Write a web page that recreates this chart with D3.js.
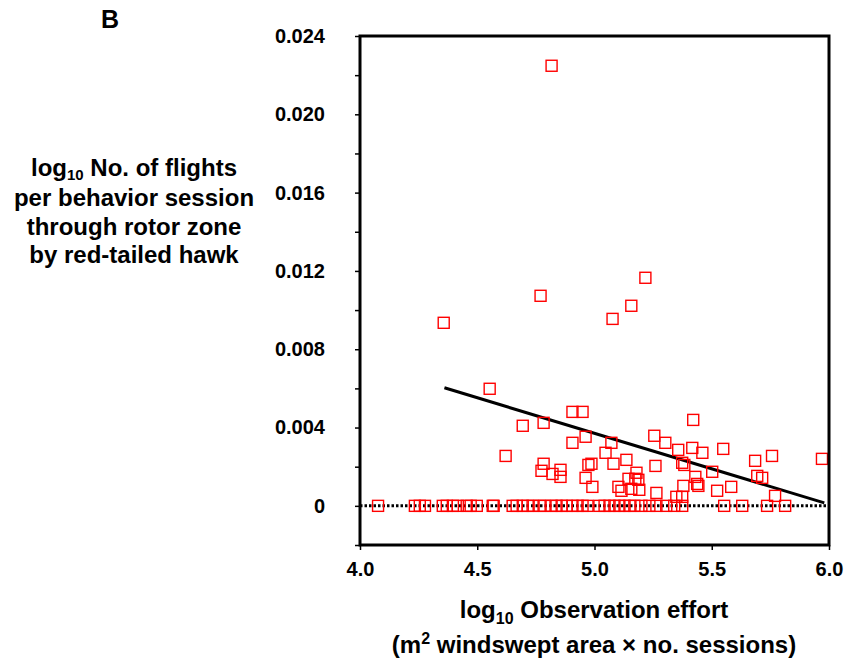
<!DOCTYPE html>
<html><head><meta charset="utf-8">
<script src="https://cdn.jsdelivr.net/npm/d3@7"></script>
<style>body{margin:0;background:#fff}svg{display:block}text{font-family:"Liberation Sans",Arial,sans-serif;font-weight:bold;fill:#000}</style>
</head><body>
<script>
const xTicks = [4.0, 4.5, 5.0, 5.5, 6.0];
const yTicks = [0, 0.004, 0.008, 0.012, 0.016, 0.020, 0.024];
const yMinorTicks = [-0.002, 0, 0.002, 0.004, 0.006, 0.008, 0.010, 0.012, 0.014, 0.016, 0.018, 0.020, 0.022, 0.024];
// Sessions with zero flights (y = 0)
const zeroX = [4.077,4.234,4.255,4.277,4.353,4.370,4.396,4.417,4.455,4.472,4.498,4.566,4.570,4.651,4.668,4.694,4.715,4.736,4.766,4.787,4.817,4.838,4.860,4.881,4.906,4.928,4.949,4.970,5.021,5.043,5.064,5.085,5.106,5.128,5.149,5.170,5.200,5.234,5.264,5.306,5.340,5.374,5.553,5.630,5.736,5.813];
// Sessions with flights
const posX = [4.817,4.357,4.770,5.217,5.157,5.077,4.553,4.906,4.949,4.694,4.783,4.906,4.962,4.621,4.783,4.774,4.821,4.855,4.855,4.987,4.974,4.962,4.991,5.421,5.255,5.302,5.357,5.417,5.460,5.549,5.047,5.072,5.081,5.136,5.260,5.374,5.383,5.502,5.685,5.757,5.970,5.694,5.715,5.179,5.145,5.174,5.187,5.102,5.115,5.157,5.191,5.264,5.430,5.438,5.443,5.379,5.349,5.374,5.523,5.583,5.770];
const posY = [0.02248,0.00935,0.01073,0.01165,0.01022,0.00955,0.00598,0.00480,0.00480,0.00409,0.00424,0.00322,0.00353,0.00255,0.00215,0.00179,0.00163,0.00184,0.00148,0.00215,0.00209,0.00143,0.00097,0.00439,0.00358,0.00322,0.00286,0.00296,0.00271,0.00291,0.00271,0.00322,0.00215,0.00235,0.00204,0.00220,0.00209,0.00174,0.00230,0.00255,0.00240,0.00153,0.00143,0.00169,0.00138,0.00138,0.00133,0.00097,0.00077,0.00087,0.00082,0.00066,0.00148,0.00112,0.00102,0.00102,0.00046,0.00046,0.00077,0.00097,0.00051];
const fitX = [4.36, 5.98];
const fitY = [0.00603, 0.00015];

const W = 849, H = 663;
const L = 360, R = 829, T = 36, B = 545;
const FONT = '"Liberation Sans",Arial,sans-serif';
const svg = d3.select("body").append("svg").attr("width", W).attr("height", H);
const x = d3.scaleLinear().domain([4, 6]).range([L, R]);
const y = d3.scaleLinear().domain([-0.002, 0.024]).range([B, T]);

// zero reference dotted line
svg.append("line").attr("x1", L).attr("x2", R).attr("y1", y(0)).attr("y2", y(0))
  .attr("stroke", "#000").attr("stroke-width", 3).attr("stroke-dasharray", "2.5,2");

// regression line
svg.append("line").attr("x1", x(fitX[0])).attr("y1", y(fitY[0])).attr("x2", x(fitX[1])).attr("y2", y(fitY[1]))
  .attr("stroke", "#000").attr("stroke-width", 3);

const pts = zeroX.map(v => [v, 0]).concat(posX.map((v, i) => [v, posY[i]]));
const s = 11;
svg.append("g").selectAll("rect").data(pts).join("rect")
  .attr("x", d => x(d[0]) - s/2).attr("y", d => y(d[1]) - s/2)
  .attr("width", s).attr("height", s)
  .attr("fill", "none").attr("stroke", "#ff0000").attr("stroke-width", 1.4);

// frame
svg.append("rect").attr("x", L).attr("y", T).attr("width", R - L).attr("height", B - T)
  .attr("fill", "none").attr("stroke", "#000").attr("stroke-width", 3);

// y axis ticks
const yAxisMinor = d3.axisLeft(y).tickValues(yMinorTicks).tickSize(5).tickFormat("");
const gy = svg.append("g").attr("transform", `translate(${L},0)`).call(yAxisMinor);
gy.select(".domain").remove();
gy.selectAll(".tick line").attr("stroke-width", 1.5);
const yAxis = d3.axisLeft(y).tickValues(yTicks).tickSize(0).tickPadding(35)
  .tickFormat(d => d === 0 ? "0" : d3.format(".3f")(d));
const gy2 = svg.append("g").attr("transform", `translate(${L},0)`).call(yAxis);
gy2.select(".domain").remove();
gy2.selectAll("text").attr("font-size", 20).attr("font-family", FONT).attr("font-weight", "bold").attr("fill", "#000");

// x axis
const xAxis = d3.axisBottom(x).tickValues(xTicks).tickSize(5).tickPadding(12).tickFormat(d3.format(".1f"));
const gx = svg.append("g").attr("transform", `translate(0,${B})`).call(xAxis);
gx.select(".domain").remove();
gx.selectAll(".tick line").attr("stroke-width", 1.5);
gx.selectAll("text").attr("font-size", 20).attr("font-family", FONT).attr("font-weight", "bold").attr("fill", "#000");

// panel label
svg.append("text").attr("x", 110).attr("y", 28).attr("text-anchor", "middle").attr("font-size", 25).text("B");

// y title
const yl = svg.append("text").attr("text-anchor", "middle").attr("font-size", 24);
const l1 = yl.append("tspan").attr("x", 134).attr("y", 176);
l1.append("tspan").text("log");
l1.append("tspan").attr("font-size", 15).attr("dy", 4).text("10");
l1.append("tspan").attr("dy", -4).text(" No. of flights");
yl.append("tspan").attr("x", 134).attr("y", 206).text("per behavior session");
yl.append("tspan").attr("x", 134).attr("y", 235).text("through rotor zone");
yl.append("tspan").attr("x", 134).attr("y", 263).text("by red-tailed hawk");

// x title
const xl = svg.append("text").attr("text-anchor", "middle").attr("font-size", 24);
const t1 = xl.append("tspan").attr("x", 594).attr("y", 618);
t1.append("tspan").text("log");
t1.append("tspan").attr("font-size", 16).attr("dy", 6).text("10");
t1.append("tspan").attr("dy", -6).text(" Observation effort");
const t2 = xl.append("tspan").attr("x", 594).attr("y", 653);
t2.append("tspan").text("(m");
t2.append("tspan").attr("font-size", 16).attr("dy", -9).text("2");
t2.append("tspan").attr("dy", 9).text(" windswept area × no. sessions)");
</script>
</body></html>
